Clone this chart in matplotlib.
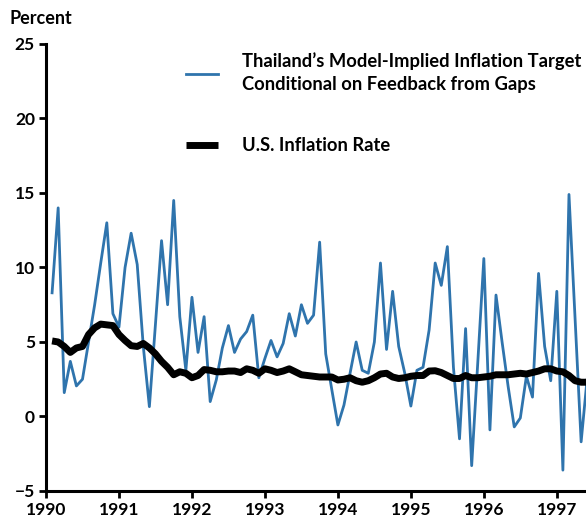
import numpy as np
import matplotlib
matplotlib.use("Agg")
import matplotlib.pyplot as plt

# monthly observations, Jan 1990 onwards
start_year = 1990
thai_target = [
    8.3, 14.0, 1.6, 3.7, 2.05, 2.5, 5.0, 7.5, 10.3, 13.0,
    6.9, 6.0, 10.0, 12.3, 10.2, 4.7, 0.66, 6.2, 11.8, 7.5,
    14.5, 6.7, 3.1, 8.0, 4.3, 6.7, 1.0, 2.45, 4.6, 6.1,
    4.3, 5.2, 5.7, 6.8, 2.6, 3.9, 5.1, 4.0, 4.9, 6.9,
    5.4, 7.5, 6.25, 6.8, 11.7, 4.2, 1.8, -0.57, 0.77, 2.9,
    5.0, 3.1, 2.9, 5.0, 10.3, 4.5, 8.4, 4.7, 2.9, 0.7,
    3.1, 3.3, 5.8, 10.3, 8.8, 11.4, 3.3, -1.5, 5.9, -3.3,
    3.6, 10.6, -0.9, 8.15, 5.0, 2.0, -0.7, -0.1, 2.7, 1.3,
    9.6, 4.7, 2.4, 8.4, -3.6, 14.9, 6.6, -1.7, 2.6,
]
us_inflation = [
    5.07, 5.0, 4.7, 4.3, 4.6, 4.7, 5.5, 5.95, 6.2, 6.15,
    6.1, 5.5, 5.1, 4.75, 4.7, 4.9, 4.6, 4.2, 3.7, 3.3,
    2.8, 3.0, 2.9, 2.6, 2.75, 3.15, 3.1, 3.0, 3.0, 3.05,
    3.05, 2.95, 3.2, 3.1, 2.9, 3.2, 3.1, 2.95, 3.05, 3.2,
    3.0, 2.8, 2.75, 2.7, 2.65, 2.65, 2.65, 2.45, 2.5, 2.6,
    2.4, 2.3, 2.4, 2.6, 2.85, 2.9, 2.65, 2.55, 2.6, 2.7,
    2.75, 2.75, 3.05, 3.07, 2.95, 2.75, 2.55, 2.55, 2.75, 2.6,
    2.6, 2.65, 2.7, 2.8, 2.8, 2.8, 2.85, 2.9, 2.85, 2.95,
    3.05, 3.2, 3.2, 3.05, 3.0, 2.75, 2.4, 2.3, 2.3,
]
year_ticks = [1990, 1991, 1992, 1993, 1994, 1995, 1996, 1997]
y_ticks = [-5, 0, 5, 10, 15, 20, 25]

thai_label = "Thailand\u2019s Model-Implied Inflation Target\nConditional on Feedback from Gaps"
us_label = "U.S. Inflation Rate"

plt.rcParams['font.family'] = ['Lato', 'DejaVu Sans']

dates = start_year + (np.arange(len(thai_target)) + 1) / 12.0

fig = plt.figure(figsize=(5.86, 5.21), dpi=100)
ax = fig.add_axes([0.0785, 0.0576, 0.9215, 0.858])

ax.plot(dates, thai_target, color='#2f74ad', lw=2.0, label=thai_label)
ax.plot(dates, us_inflation, color='black', lw=5, solid_capstyle='butt', label=us_label)

ax.set_xlim(1990, 1997.4)
ax.set_ylim(-5, 25)
ax.set_xticks(year_ticks)
ax.set_yticks(y_ticks)
ax.tick_params(direction='out', length=5, width=2, labelsize=12.5, pad=3)
for lab in ax.get_xticklabels() + ax.get_yticklabels():
    lab.set_fontweight('bold')

for side in ['top', 'right']:
    ax.spines[side].set_visible(False)
for side in ['left', 'bottom']:
    ax.spines[side].set_linewidth(2.2)

fig.text(0.017, 0.965, "Percent", fontsize=13, fontweight='bold', va='center', ha='left')

leg = ax.legend(loc='upper left', bbox_to_anchor=(0.318, 0.899), bbox_transform=fig.transFigure,
                frameon=False, fontsize=13.2, handlelength=1.7, handletextpad=1.35,
                labelspacing=2.4, borderpad=0, borderaxespad=0)
for t in leg.get_texts():
    t.set_fontweight('bold')
    t.set_linespacing(1.42)

fig.savefig("out.png", dpi=100)
